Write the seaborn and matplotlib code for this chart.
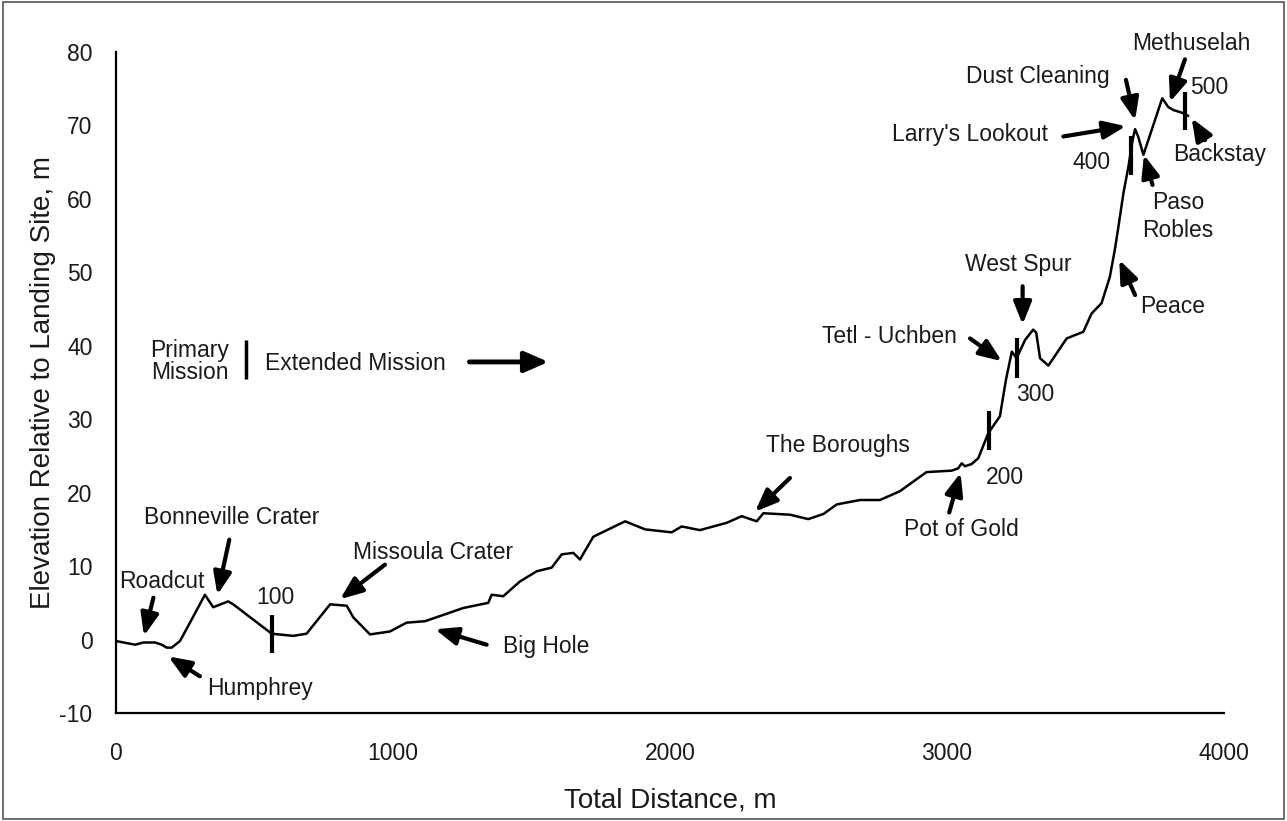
import matplotlib
matplotlib.use("Agg")
import matplotlib.pyplot as plt
import seaborn as sns
import pandas as pd
from matplotlib.patches import Rectangle

# ---- data -------------------------------------------------------------
distance = [0, 69, 99, 141, 165, 183, 201, 231, 267, 321, 351, 405, 423, 562,
            640, 688, 773, 833, 857, 917, 989, 1049, 1116, 1254, 1344, 1356,
            1398, 1458, 1519, 1573, 1609, 1651, 1675, 1723, 1838, 1910, 2006,
            2042, 2108, 2205, 2259, 2313, 2337, 2433, 2499, 2554, 2602, 2686,
            2758, 2830, 2926, 3017, 3040, 3053, 3065, 3089, 3113, 3149, 3191,
            3213, 3234, 3251, 3282, 3311, 3322, 3336, 3366, 3432, 3492, 3522,
            3558, 3588, 3606, 3618, 3637, 3655, 3670, 3679, 3690, 3709, 3740,
            3777, 3799, 3817, 3851, 3871]
elevation = [-0.2, -0.7, -0.4, -0.4, -0.7, -1.1, -1.1, -0.2, 2.3, 6.1, 4.4,
             5.2, 4.8, 0.8, 0.5, 0.8, 4.8, 4.6, 3.0, 0.7, 1.1, 2.3, 2.5, 4.3,
             5.0, 6.1, 5.9, 7.9, 9.3, 9.8, 11.6, 11.8, 10.9, 14.0, 16.1, 15.0,
             14.6, 15.4, 14.9, 15.9, 16.8, 16.1, 17.2, 17.0, 16.4, 17.1, 18.4,
             19.0, 19.0, 20.2, 22.8, 23.0, 23.3, 24.0, 23.6, 23.9, 24.7, 28.1,
             30.4, 35.4, 39.2, 38.3, 40.8, 42.2, 41.8, 38.3, 37.3, 41.0, 41.9,
             44.4, 45.8, 49.4, 53.1, 56.0, 60.8, 64.4, 68.0, 69.5, 68.5, 66.0,
             69.5, 73.7, 72.5, 72.1, 71.7, 71.3]

# sol markers
sol_labels = ["100", "200", "300", "400", "500"]
sol_x = [562, 3153, 3254, 3663, 3859]
sol_ylo = [-1.8, 25.8, 35.6, 63.3, 69.4]
sol_yhi = [3.4, 31.1, 41.0, 68.5, 74.6]
sol_label_x = [574, 3209, 3318, 3522, 3947]
sol_label_y = [5.7, 22.0, 33.3, 64.9, 75.1]

# named features: label, text position, alignment, arrow tail, arrow head
feature_names = ["Roadcut", "Bonneville Crater", "Humphrey", "Missoula Crater",
                 "Big Hole", "The Boroughs", "Pot of Gold", "Tetl - Uchben",
                 "West Spur", "Peace", "Larry's Lookout", "Dust Cleaning",
                 "Paso\nRobles", "Methuselah", "Backstay"]
text_x = [165, 418, 520, 1146, 1554, 2606, 3053, 3035, 3257, 3815, 3366,
          3588, 3834, 3883, 3986]
text_y = [7.9, 16.6, -6.6, 11.8, -0.9, 26.4, 15.0, 41.3, 51.0, 45.3, 68.7,
          76.6, 57.6, 81.2, 66.0]
text_ha = ["center", "center", "center", "center", "center", "center",
           "center", "right", "center", "center", "right", "right",
           "center", "center", "center"]
tail_x = [135, 409, 303, 971, 1338, 2433, 3008, 3083, 3273, 3679, 3420,
          3646, 3742, 3859, 3931]
tail_y = [5.7, 13.6, -5.0, 10.2, -0.7, 22.0, 17.3, 41.0, 48.1, 46.9, 68.5,
          76.2, 61.9, 79.0, 68.0]
head_x = [101, 366, 189, 809, 1152, 2307, 3049, 3198, 3273, 3622, 3646,
          3679, 3711, 3805, 3883]
head_y = [0.5, 6.1, -2.3, 5.5, 1.4, 17.4, 22.7, 37.9, 42.9, 51.7, 69.9,
          70.7, 66.0, 73.2, 71.0]

# mission phase split
mission_split_x = [469]
mission_split_y = [35.5, 40.8]
primary_text_xy = [265, 37.9]
extended_text_xy = [538, 37.6]
extended_arrow_x = [1276, 1561]
extended_arrow_y = 37.8

# ---- plot -------------------------------------------------------------
sns.set_style("white")
plt.rcParams["font.family"] = ["Liberation Sans", "DejaVu Sans"]
plt.rcParams["axes.unicode_minus"] = False
TXT = "#1a1a1a"

fig = plt.figure(figsize=(12.87, 8.21), dpi=100)
ax = fig.add_axes([116 / 1287, 1 - 713 / 821, (1224 - 116) / 1287, (713 - 52) / 821])

df = pd.DataFrame({"Total Distance, m": distance,
                   "Elevation Relative to Landing Site, m": elevation})
sns.lineplot(data=df, x="Total Distance, m",
             y="Elevation Relative to Landing Site, m",
             ax=ax, color="black", linewidth=1.8, sort=False)

ax.set_xlim(0, 4000)
ax.set_ylim(-10, 80)
ax.set_xticks(range(0, 4001, 1000))
ax.set_xticks(range(500, 4000, 1000), minor=True)
ax.set_yticks(range(-10, 81, 10))
ax.set_yticks(range(-5, 80, 10), minor=True)
for s in ["top", "right"]:
    ax.spines[s].set_visible(False)
for s in ["left", "bottom"]:
    ax.spines[s].set_color("black")
    ax.spines[s].set_linewidth(1.6)
ax.tick_params(which="both", direction="in", length=6, width=1.4,
               colors="black", labelsize=16.5, labelcolor=TXT)
ax.tick_params(axis="x", pad=21)
ax.tick_params(axis="y", pad=17)
ax.set_xlabel("Total Distance, m", fontsize=20, labelpad=16, color=TXT)
ax.set_ylabel("Elevation Relative to Landing Site, m", fontsize=20,
              labelpad=2, color=TXT)

# sol markers
ax.vlines(sol_x, sol_ylo, sol_yhi, color="black", linewidth=3)
for lab, lx, ly in zip(sol_labels, sol_label_x, sol_label_y):
    ax.text(lx, ly, lab, fontsize=16.5, ha="center", va="center", color=TXT)

# feature annotations
for name, tx, ty, ha, ax0, ay0, hx, hy in zip(feature_names, text_x, text_y,
                                              text_ha, tail_x, tail_y,
                                              head_x, head_y):
    ax.text(tx, ty, name, fontsize=16.5, ha=ha, va="center",
            linespacing=1.3, clip_on=False, color=TXT)
    ax.annotate("", xy=(hx, hy), xytext=(ax0, ay0),
                arrowprops=dict(arrowstyle="-|>,head_length=0.75,head_width=0.3",
                                color="black", lw=3, mutation_scale=18,
                                shrinkA=0, shrinkB=0),
                annotation_clip=False)

# mission split
ax.vlines(mission_split_x, mission_split_y[0], mission_split_y[1],
          color="black", linewidth=2.5)
ax.text(primary_text_xy[0], primary_text_xy[1], "Primary\nMission",
        fontsize=16.5, ha="center", va="center", linespacing=0.95, color=TXT)
ax.text(extended_text_xy[0], extended_text_xy[1], "Extended Mission",
        fontsize=16.5, ha="left", va="center", color=TXT)
ax.annotate("", xy=(extended_arrow_x[1], extended_arrow_y),
            xytext=(extended_arrow_x[0], extended_arrow_y),
            arrowprops=dict(arrowstyle="-|>,head_length=0.8,head_width=0.35",
                            color="black", lw=3.5, mutation_scale=18,
                            shrinkA=0, shrinkB=0))

# outer frame
fig.patches.append(Rectangle((0.002, 0.003), 0.996, 0.994, transform=fig.transFigure,
                             fill=False, edgecolor="#555555", linewidth=1.2))

fig.savefig("out.png", dpi=100)
